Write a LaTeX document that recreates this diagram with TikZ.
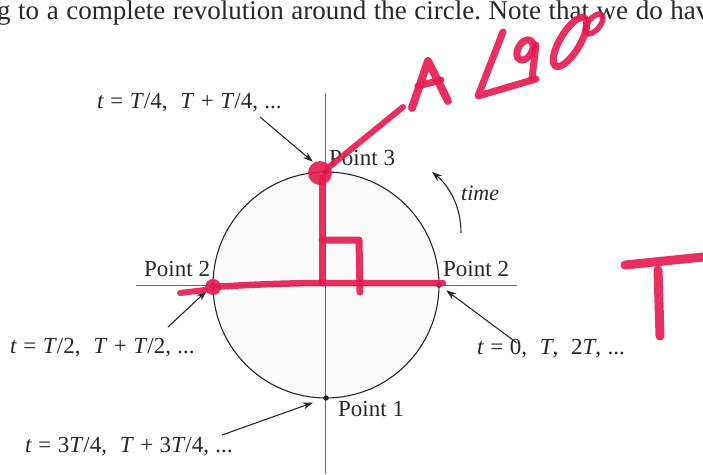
\documentclass[tikz,border=0pt]{standalone}
\usepackage{fontspec}
\setmainfont{Liberation Serif}
\usepackage{xcolor}
\usetikzlibrary{arrows.meta,positioning}
\definecolor{ink}{RGB}{38,40,40}
\definecolor{marker}{RGB}{228,26,78}
\frenchspacing

\begin{document}
\begin{tikzpicture}[
  x=1pt, y=-1pt,
  lbl/.style={font=\fontsize{23}{26}\selectfont, text=ink, inner sep=0pt, anchor=base west},
  ptlbl/.style={lbl, font=\fontsize{23}{26}\selectfont},
  axis/.style={draw=black!60, line width=0.9pt},
  dot/.style={circle, fill=ink, inner sep=0pt, minimum size=5.5pt},
  arr/.style={-{Stealth[length=10pt,width=7pt,inset=3pt]}, draw=ink, line width=1.1pt},
  pen/.style={draw=marker, line width=7pt, line cap=round, line join=round, opacity=0.9}
]
  \useasboundingbox (0,0) rectangle (703,474);

  % running text of the page
  \node[lbl, font=\fontsize{27}{30}\selectfont] (txt) at (-3,19)
    {\makebox[712pt][s]{g to a complete revolution around the circle. Note that we do hav}};

  % circle and axes
  \coordinate (o) at (326,285);
  \fill[black!1.5] (o) circle (113pt);
  \draw[axis] (325,93) -- (325,474);
  \draw[axis] (136,285) -- (517,285);
  \draw[ink, line width=1.1pt] (o) circle (113pt);

  \node[dot] (p3) at (325,172) {};
  \node[dot] (p2l) at (213,285) {};
  \node[dot] (p2r) at (439,285) {};
  \node[dot] (p1) at (326,398) {};

  \node[ptlbl] (n3) at (329,165) {Point 3};
  \node[ptlbl] (n2l) at (144,276) {Point 2};
  \node[ptlbl] (n2r) at (443,276) {Point 2};
  \node[ptlbl] (n1) at (338,416) {Point 1};

  % times
  \node[lbl] (tq) at (97,108) {\textit{t}\;=\;\textit{T}/4,\;\;\textit{T}\;+\;\textit{T}/4,\;...};
  \node[lbl] (th) at (10,353) {\textit{t}\;=\;\textit{T}/2,\;\;\textit{T}\;+\;\textit{T}/2,\;...};
  \node[lbl] (tz) at (477,354) {\textit{t}\;=\;0,\;\;\textit{T},\;\;2\textit{T},\;...};
  \node[lbl] (tt) at (25,452) {\textit{t}\;=\;3\textit{T}/4,\;\;\textit{T}\;+\;3\textit{T}/4,\;...};
  \node[lbl, font=\fontsize{22}{26}\selectfont\itshape] (tm) at (461,200) {time};

  \coordinate (aq) at (260,117);
  \coordinate (ah) at (168,327);
  \coordinate (az) at (517,343);
  \coordinate (at) at (222,435);
  \coordinate (ta) at (461,233);
  \coordinate (tb) at (432,172);

  \draw[arr, shorten >=13pt] (aq) -- (p3);
  \draw[arr, shorten >=6pt] (ah) -- (p2l);
  \draw[arr, shorten >=6pt] (az) -- (p2r);
  \draw[arr, shorten >=11pt] (at) -- (p1);
  \draw[arr] (ta) .. controls (461,205) and (448,185) .. (tb);

  % marker scribbles
  \fill[marker, opacity=0.9] (320,173) circle (12pt);
  \draw[pen] (322,178) -- (322,283);
  \draw[pen] (322,240) -- (359,240) -- (360,292);
  \draw[pen, line width=6.5pt] (212,287) .. controls (260,284) and (300,283) .. (322,283) -- (443,283);
  \draw[pen, line width=6pt] (180,293) -- (205,290);
  \fill[marker, opacity=0.9] (213,287) circle (8pt);
  \draw[pen, line width=6pt] (328,168) -- (403,107);
  \draw[pen, line width=8pt] (412,108) -- (428,61) -- (448,101);
  \draw[pen, line width=7pt] (418,86) -- (441,80);
  \draw[pen, line width=7pt] (503,32) -- (478,96) -- (536,79);
  \draw[pen, line width=7pt, rotate around={60:(525,50)}] (525,50) ellipse [x radius=11pt, y radius=7pt];
  \draw[pen, line width=7pt] (536,45) -- (532,78);
  \draw[pen, line width=7pt, rotate around={59:(570,42)}] (570,42) ellipse [x radius=28pt, y radius=10pt];
  \draw[pen, line width=5.5pt, rotate around={50:(594,24)}] (594,24) ellipse [x radius=12pt, y radius=6pt];
  \draw[pen, line width=9pt] (625,265) -- (703,257);
  \draw[pen, line width=9pt] (658,270) -- (660,336);
\end{tikzpicture}
\end{document}
